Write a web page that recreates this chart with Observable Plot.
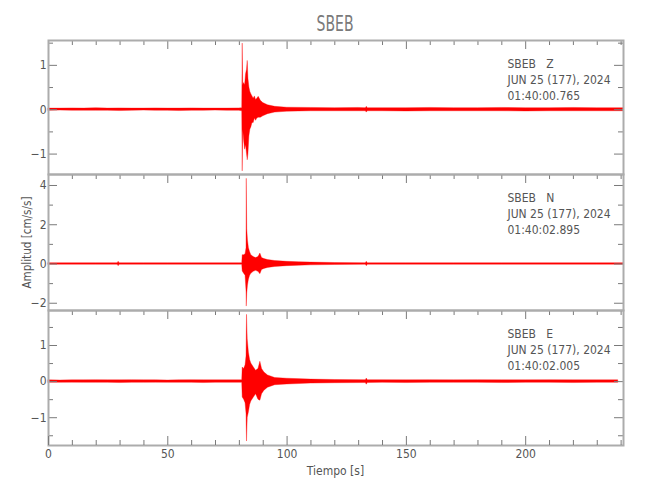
<!DOCTYPE html>
<html><head><meta charset="utf-8">
<script src="https://cdn.jsdelivr.net/npm/d3@7"></script>
<script src="https://cdn.jsdelivr.net/npm/@observablehq/plot@0.6"></script>
<style>
body{margin:0;background:#fff;}
#chart{position:relative;width:650px;height:500px;overflow:hidden;font-family:'DejaVu Sans Condensed','Liberation Sans Narrow',sans-serif;}
#chart svg text{white-space:pre;}
</style></head><body><div id="chart"></div>
<script>
// ---------- data ----------
const title = "SBEB";
const xLabel = "Tiempo [s]";
const yLabel = "Amplitud [cm/s/s]";
const xDomain = [0, 241];
const xTicksMajor = [0, 50, 100, 150, 200];
const xTicksMinor = [10,20,30,40,60,70,80,90,110,120,130,140,160,170,180,190,210,220,230,240];

// Z component: time [s], upper and lower envelope [cm/s/s]
const tZ  = [0,5,10,15,20,25,30,35,40,45,50,55,60,65,70,75,80,81.2,81.4,81.6,82.0,82.4,82.8,83.2,83.5,83.8,84.2,84.6,85.0,85.5,86.0,86.5,87.0,87.5,88.1,89.0,90.0,92.0,95.0,100,110,120,130,133.0,133.4,133.8,140,150,160,170,180,190,200,210,220,230,241];
const hiZ = [0.025,0.025,0.03,0.025,0.035,0.025,0.03,0.025,0.025,0.03,0.025,0.025,0.03,0.025,0.025,0.025,0.03,0.035,1.49,0.55,0.6,0.55,0.8,0.9,1.10,0.7,0.5,0.4,0.35,0.3,0.25,0.3,0.22,0.25,0.29,0.2,0.15,0.1,0.065,0.045,0.04,0.035,0.04,0.035,0.065,0.035,0.035,0.035,0.04,0.035,0.035,0.04,0.035,0.035,0.04,0.035,0.035];
const loZ = [-0.025,-0.02,-0.025,-0.025,-0.025,-0.025,-0.03,-0.025,-0.02,-0.025,-0.025,-0.03,-0.025,-0.025,-0.02,-0.025,-0.025,-0.035,-1.39,-0.45,-0.7,-0.9,-0.8,-1.0,-1.14,-1.0,-0.6,-0.45,-0.4,-0.3,-0.3,-0.2,-0.25,-0.2,-0.18,-0.18,-0.15,-0.1,-0.065,-0.045,-0.035,-0.035,-0.035,-0.035,-0.065,-0.035,-0.035,-0.04,-0.035,-0.035,-0.035,-0.035,-0.04,-0.035,-0.035,-0.035,-0.035];

// N component
const tN  = [0,10,20,29.0,29.4,29.8,40,50,60,70,80,81.2,81.4,82.0,82.6,83.0,83.1,83.3,83.6,84.0,84.5,85.0,86.0,87.0,88.0,88.8,89.5,90.5,92.0,95.0,100,105,110,120,133.0,133.4,133.8,150,170,190,210,230,241];
const hiN = [0.04,0.04,0.04,0.04,0.11,0.04,0.04,0.04,0.04,0.04,0.04,0.04,0.45,0.45,0.5,0.8,4.34,1.76,1.2,0.8,0.6,0.45,0.35,0.3,0.35,0.53,0.3,0.25,0.2,0.15,0.11,0.09,0.07,0.05,0.04,0.11,0.04,0.04,0.04,0.04,0.04,0.04,0.04];
const loN = [-0.04,-0.04,-0.04,-0.04,-0.11,-0.04,-0.04,-0.04,-0.04,-0.04,-0.04,-0.04,-0.38,-0.5,-0.6,-1.4,-2.17,-1.5,-1.1,-0.8,-0.6,-0.5,-0.4,-0.35,-0.4,-0.52,-0.3,-0.25,-0.2,-0.15,-0.11,-0.09,-0.07,-0.05,-0.04,-0.11,-0.04,-0.04,-0.04,-0.04,-0.04,-0.04,-0.04];

// E component
const tE  = [0,5,10,15,20,25,30,35,40,45,50,55,60,65,70,75,80,81.2,81.4,82.0,82.6,83.0,83.2,83.5,84.0,84.5,85.0,86.0,87.0,88.0,88.8,89.5,90.5,92.0,95.0,100,110,120,133.0,133.4,133.8,140,150,160,170,180,190,200,210,220,230,238.8];
const hiE = [0.035,0.03,0.035,0.035,0.04,0.035,0.035,0.04,0.035,0.035,0.03,0.035,0.04,0.035,0.035,0.035,0.035,0.035,0.39,0.35,0.45,0.7,1.85,1.17,0.8,0.6,0.5,0.4,0.3,0.35,0.55,0.35,0.25,0.17,0.1,0.08,0.055,0.045,0.04,0.085,0.04,0.04,0.035,0.04,0.035,0.04,0.035,0.035,0.04,0.035,0.035,0.035];
const loE = [-0.035,-0.035,-0.03,-0.035,-0.035,-0.035,-0.04,-0.035,-0.035,-0.03,-0.035,-0.035,-0.035,-0.04,-0.035,-0.035,-0.035,-0.035,-0.44,-0.5,-0.6,-0.9,-1.66,-1.0,-0.85,-0.65,-0.55,-0.45,-0.35,-0.5,-0.53,-0.35,-0.25,-0.17,-0.1,-0.08,-0.055,-0.045,-0.04,-0.085,-0.04,-0.035,-0.04,-0.035,-0.035,-0.035,-0.04,-0.035,-0.035,-0.04,-0.035,-0.035];

const yDomZ = [-1.46, 1.56], yMajorZ = [-1, 0, 1], yMinorZ = [-0.5, 0.5, 1.5];
const yDomN = [-2.37, 4.56], yMajorN = [-2, 0, 2, 4], yMinorN = [-1, 1, 3];
const yDomE = [-1.77, 1.97], yMajorE = [-1, 0, 1], yMinorE = [-1.5, -0.5, 0.5, 1.5];

const labelZ = "SBEB   Z\nJUN 25 (177), 2024\n01:40:00.765";
const labelN = "SBEB   N\nJUN 25 (177), 2024\n01:40:02.895";
const labelE = "SBEB   E\nJUN 25 (177), 2024\n01:40:02.005";

// ---------- drawing ----------
const RED = "#ff0000", FRAME = "#acacac", TICK = "#7a7a7a", TEXT = "#555555";
const FONT = "'DejaVu Sans Condensed','Liberation Sans Narrow',sans-serif";
const W = 650, ML = 48, MR = 27, innerW = W - ML - MR;
const chart = document.getElementById("chart");
const fmt = d3.format("d");

function rows(t, hi, lo) { return t.map((v, i) => ({t: v, hi: hi[i], lo: lo[i]})); }

function panel({data, yDomain, yMajor, yMinor, label, top, innerH, bottomAxis}) {
  const mb = bottomAxis ? 40 : 2;
  const marks = [
    Plot.areaY(data, {x: "t", y1: "lo", y2: "hi", fill: RED, stroke: RED, strokeWidth: 0.35}),
    Plot.ruleY(yMajor, {stroke: TICK, insetRight: innerW - 9}),
    Plot.ruleY(yMajor, {stroke: TICK, insetLeft: innerW - 9}),
    Plot.ruleY(yMinor, {stroke: TICK, insetRight: innerW - 5}),
    Plot.ruleY(yMinor, {stroke: TICK, insetLeft: innerW - 5}),
    Plot.ruleX(xTicksMajor, {stroke: TICK, insetBottom: innerH - 9}),
    Plot.ruleX(xTicksMinor, {stroke: TICK, insetBottom: innerH - 5}),
    Plot.frame({stroke: FRAME, strokeWidth: 2}),
    Plot.axisY({ticks: yMajor, tickSize: 0, tickPadding: 2, tickFormat: fmt, label: null}),
    Plot.text([label], {frameAnchor: "top-left", dx: 459, dy: 15.8, lineAnchor: "top", lineHeight: 1.33, textAnchor: "start", fill: TEXT, fontSize: 12})
  ];
  if (bottomAxis) {
    marks.push(
      Plot.ruleX(xTicksMajor, {stroke: TICK, insetTop: innerH - 9}),
      Plot.ruleX(xTicksMinor, {stroke: TICK, insetTop: innerH - 5}),
      Plot.axisX({ticks: xTicksMajor, tickSize: 0, tickPadding: 4, tickFormat: fmt, label: null})
    );
  }
  const svg = Plot.plot({
    width: W, height: innerH + 2 + mb,
    marginLeft: ML, marginRight: MR, marginTop: 2, marginBottom: mb,
    x: {domain: xDomain, axis: bottomAxis ? undefined : null},
    y: {domain: yDomain},
    style: {fontFamily: FONT, fontSize: "12px", color: TEXT, background: "transparent", overflow: "visible"},
    marks
  });
  svg.style.position = "absolute";
  svg.style.left = "0px";
  svg.style.top = (top - 2) + "px";
  chart.appendChild(svg);
}

panel({data: rows(tZ, hiZ, loZ), yDomain: yDomZ, yMajor: yMajorZ, yMinor: yMinorZ, label: labelZ, top: 40, innerH: 134});
panel({data: rows(tN, hiN, loN), yDomain: yDomN, yMajor: yMajorN, yMinor: yMinorN, label: labelN, top: 174, innerH: 136});
panel({data: rows(tE, hiE, loE), yDomain: yDomE, yMajor: yMajorE, yMinor: yMinorE, label: labelE, top: 310, innerH: 135, bottomAxis: true});

// titles and axis labels
const ov = d3.select(chart).append("svg")
  .attr("width", W).attr("height", 500)
  .style("position", "absolute").style("left", 0).style("top", 0)
  .style("pointer-events", "none")
  .attr("font-family", FONT).attr("fill", TEXT);
ov.append("text").attr("x", 335).attr("y", 30.5).attr("text-anchor", "middle")
  .attr("font-family", "'DejaVu Sans ExtraLight','DejaVu Sans Condensed',sans-serif")
  .attr("font-size", 21).attr("fill", "#7a7a7a")
  .attr("textLength", 37).attr("lengthAdjust", "spacingAndGlyphs").text(title);
ov.append("text").attr("x", 335.5).attr("y", 475).attr("text-anchor", "middle")
  .attr("font-size", 12).text(xLabel);
ov.append("text").attr("transform", "translate(31,242.5) rotate(-90)").attr("text-anchor", "middle")
  .attr("font-size", 12).attr("textLength", 92).attr("lengthAdjust", "spacingAndGlyphs").text(yLabel);
</script>
</body></html>
